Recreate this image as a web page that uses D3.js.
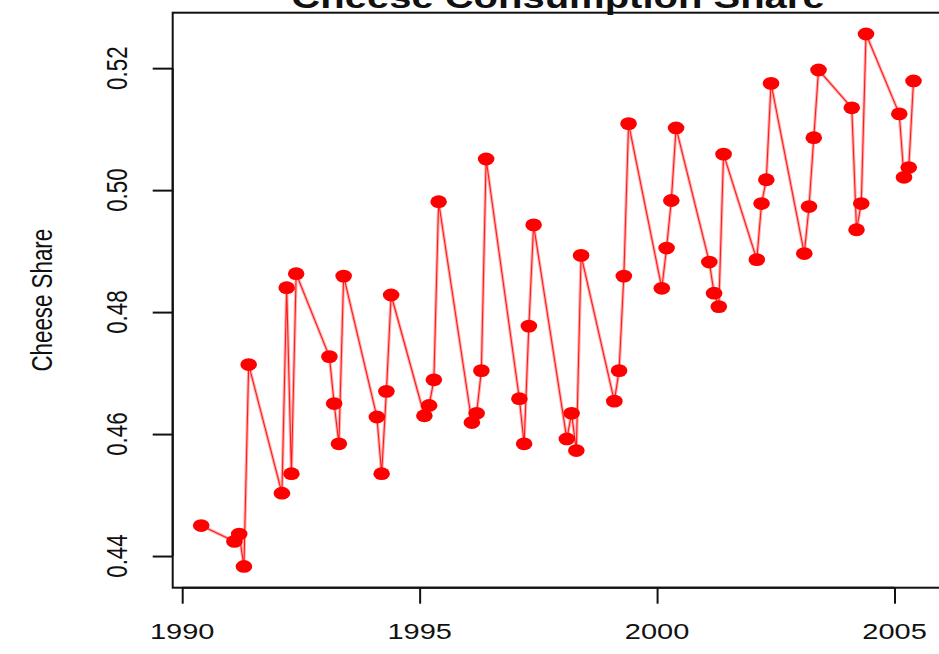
<!DOCTYPE html>
<html>
<head>
<meta charset="utf-8">
<script src="https://cdn.jsdelivr.net/npm/d3@7"></script>
<style>
  html, body { margin: 0; padding: 0; background: #ffffff; }
  svg { display: block; }
  text { font-family: "Liberation Sans", Arial, Helvetica, sans-serif; fill: #111; }
</style>
</head>
<body>
<svg id="chart" width="939" height="654"></svg>
<script>
// ---- data ----
const periods = [
  1990.4,
  1991.1, 1991.2, 1991.3, 1991.4,
  1992.1, 1992.2, 1992.3, 1992.4,
  1993.1, 1993.2, 1993.3, 1993.4,
  1994.1, 1994.2, 1994.3, 1994.4,
  1995.1, 1995.2, 1995.3, 1995.4,
  1996.1, 1996.2, 1996.3, 1996.4,
  1997.1, 1997.2, 1997.3, 1997.4,
  1998.1, 1998.2, 1998.3, 1998.4,
  1999.1, 1999.2, 1999.3, 1999.4,
  2000.1, 2000.2, 2000.3, 2000.4,
  2001.1, 2001.2, 2001.3, 2001.4,
  2002.1, 2002.2, 2002.3, 2002.4,
  2003.1, 2003.2, 2003.3, 2003.4,
  2004.1, 2004.2, 2004.3, 2004.4,
  2005.1, 2005.2, 2005.3, 2005.4
];
const cheeseShare = [
  0.4450,
  0.4424, 0.4436, 0.4383, 0.4714,
  0.4503, 0.4840, 0.4535, 0.4863,
  0.4727, 0.4650, 0.4584, 0.4859,
  0.4628, 0.4535, 0.4670, 0.4828,
  0.4630, 0.4647, 0.4689, 0.4981,
  0.4619, 0.4634, 0.4704, 0.5051,
  0.4658, 0.4584, 0.4777, 0.4943,
  0.4592, 0.4634, 0.4573, 0.4893,
  0.4654, 0.4704, 0.4859, 0.5109,
  0.4839, 0.4905, 0.4983, 0.5102,
  0.4882, 0.4831, 0.4809, 0.5059,
  0.4886, 0.4978, 0.5017, 0.5175,
  0.4896, 0.4973, 0.5086, 0.5197,
  0.5135, 0.4935, 0.4978, 0.5256,
  0.5125, 0.5021, 0.5037, 0.5179
];
const xTicks = [1990, 1995, 2000, 2005];
const yTicks = [0.44, 0.46, 0.48, 0.50, 0.52];
const title = "Cheese Consumption Share";
const yTitle = "Cheese Share";

// ---- layout ----
const svg = d3.select("#chart");
const plot = { left: 172.7, right: 942, top: 12.7, bottom: 587.7 };
const squish = 0.77; // vertical compression of the original picture

// R-style 4% range extension
function rRange(ext) {
  const d = ext[1] - ext[0];
  return [ext[0] - 0.04 * d, ext[1] + 0.04 * d];
}
const x = d3.scaleLinear().domain(rRange(d3.extent(periods))).range([plot.left, plot.right]);
const y = d3.scaleLinear().domain(rRange(d3.extent(cheeseShare))).range([plot.bottom, plot.top]);

const data = periods.map((p, i) => ({ p, v: cheeseShare[i] }));

// ---- series ----
const line = d3.line().x(d => x(d.p)).y(d => y(d.v));
svg.append("path").datum(data)
  .attr("d", line)
  .attr("fill", "none")
  .attr("stroke", "#ffb0b0")
  .attr("stroke-width", 3.2)
  .attr("stroke-linejoin", "round");
svg.append("path").datum(data)
  .attr("d", line)
  .attr("fill", "none")
  .attr("stroke", "#ff1a1a")
  .attr("stroke-width", 1.1)
  .attr("stroke-linejoin", "round");

svg.append("g").selectAll("ellipse").data(data).join("ellipse")
  .attr("cx", d => x(d.p))
  .attr("cy", d => y(d.v))
  .attr("rx", 8.3)
  .attr("ry", 6.4)
  .attr("fill", "#ff0000");

// ---- box ----
svg.append("rect")
  .attr("x", plot.left).attr("y", plot.top)
  .attr("width", plot.right - plot.left + 10)
  .attr("height", plot.bottom - plot.top)
  .attr("fill", "none")
  .attr("stroke", "#111")
  .attr("stroke-width", 2);

// ---- x axis ----
const xAxis = d3.axisBottom(x).tickValues(xTicks).tickSize(16).tickFormat("");
const gx = svg.append("g").attr("transform", `translate(0,${plot.bottom})`).call(xAxis);
gx.select(".domain")
  .attr("d", `M${x(xTicks[0])},0H${x(xTicks[xTicks.length - 1])}`)
  .attr("stroke", "#111").attr("stroke-width", 2);
gx.selectAll(".tick line").attr("stroke", "#111").attr("stroke-width", 2);
svg.append("g").selectAll("text").data(xTicks).join("text")
  .attr("transform", d => `translate(${x(d)},639) scale(1,${squish})`)
  .attr("text-anchor", "middle")
  .attr("font-size", 29)
  .text(d => d);

// ---- y axis ----
const yAxis = d3.axisLeft(y).tickValues(yTicks).tickSize(20).tickFormat("");
const gy = svg.append("g").attr("transform", `translate(${plot.left},0)`).call(yAxis);
gy.select(".domain")
  .attr("d", `M0,${y(yTicks[0])}V${y(yTicks[yTicks.length - 1])}`)
  .attr("stroke", "#111").attr("stroke-width", 2);
gy.selectAll(".tick line").attr("stroke", "#111").attr("stroke-width", 2);
svg.append("g").selectAll("text").data(yTicks).join("text")
  .attr("transform", d => `translate(127,${y(d)}) rotate(-90) scale(${squish},1)`)
  .attr("text-anchor", "middle")
  .attr("font-size", 29)
  .text(d => d3.format(".2f")(d));

// ---- titles ----
svg.append("text")
  .attr("transform", `translate(52,${(plot.top + plot.bottom) / 2}) rotate(-90) scale(${squish},1)`)
  .attr("text-anchor", "middle")
  .attr("font-size", 29)
  .text(yTitle);

svg.append("text")
  .attr("transform", `translate(558,8) scale(1,${squish})`)
  .attr("text-anchor", "middle")
  .attr("font-size", 40)
  .attr("font-weight", "bold")
  .text(title);
</script>
</body>
</html>
